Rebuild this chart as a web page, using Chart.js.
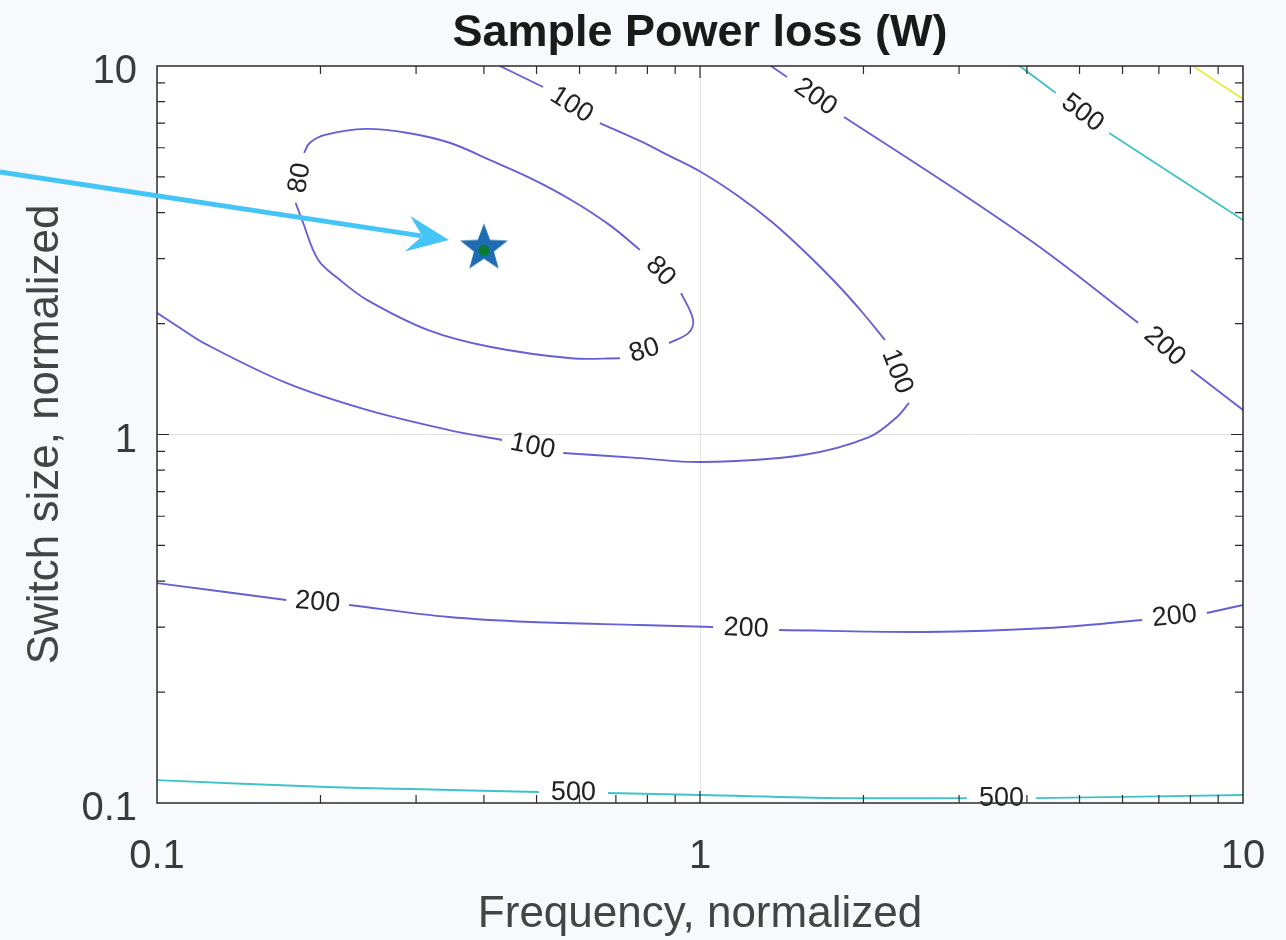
<!DOCTYPE html>
<html>
<head>
<meta charset="utf-8">
<title>Sample Power loss (W)</title>
<script src="https://cdn.jsdelivr.net/npm/chart.js@4"></script>
<style>
  html, body { margin: 0; padding: 0; background: #f7f9fc; }
  #wrap { width: 1286px; height: 940px; }
</style>
</head>
<body>
<div id="wrap"><canvas id="chart" width="1286" height="940"></canvas></div>
<script>
// contour lines: [frequency, switch size], null = gap for the level label
const contour80 = [[0.180,4.25],[0.185,3.82],[0.198,2.98],[0.217,2.63],[0.2435,2.32],[0.316,1.92],[0.410,1.73],[0.579,1.61],[0.712,1.61],null,
  [0.877,1.77],[0.954,1.89],[0.971,2.05],[0.923,2.42],null,
  [0.775,3.17],[0.682,3.70],[0.579,4.33],[0.486,4.97],[0.410,5.56],[0.347,6.18],[0.290,6.58],[0.242,6.75],[0.204,6.50],[0.191,6.18],[0.1866,5.81],null,
  [0.180,4.25]];
const contour100 = [[0.1,2.14],[0.1103,1.945],[0.122,1.77],[0.173,1.38],[0.2435,1.166],[0.345,1.028],[0.432,0.966],null,
  [0.560,0.891],[0.775,0.863],[1.004,0.842],[1.548,0.880],[2.048,0.984],[2.306,1.116],[2.426,1.218],null,
  [2.191,1.805],[1.988,2.150],[1.773,2.593],[1.561,3.128],[1.357,3.773],[1.175,4.439],[1.004,5.156],[0.873,5.73],[0.775,6.26],[0.654,7.00],null,
  [0.514,8.77],[0.428,10]];
const contour200Upper = [[1.351,10],[1.446,9.34],null,[1.842,7.27],[3.10,4.41],[4.37,3.11],[6.41,2.01],null,[8.02,1.496],[10,1.166]];
const contour200Lower = [[0.1,0.395],[0.173,0.3556],null,[0.2258,0.3446],[0.345,0.3197],[0.4884,0.3099],[0.775,0.3041],[1.057,0.3004],null,
  [1.398,0.2948],[2.608,0.2911],[4.37,0.2985],[6.52,0.3138],null,[8.58,0.3279],[10,0.3446]];
const contour500Upper = [[3.88,10],[4.52,8.45],null,[5.67,6.58],[10,3.82]];
const contour500Lower = [[0.1,0.1154],[0.2056,0.1105],[0.345,0.1085],[0.505,0.1071],null,[0.677,0.1064],[1.004,0.1051],[1.842,0.1031],[3.10,0.1031],null,
  [4.16,0.1031],[10,0.1051]];
const contour1000 = [[8.09,10],[10,8.14]];

const optimum = [[0.4, 3.2]];
const arrowTail = [0.0514, 5.16];
const arrowTip = [0.345, 3.37];

const xTicks = [0.1, 1, 10];
const yTicks = [0.1, 1, 10];
const minorTicks = [0.2,0.3,0.4,0.5,0.6,0.7,0.8,0.9,2,3,4,5,6,7,8,9];

const titleText = 'Sample Power loss (W)';

const FONT = '"Liberation Sans", Arial, Helvetica, sans-serif';
const BLUE = '#6660d4';
const CYAN = '#3fc3c9';
const YELLOW = '#ebe94c';

const toPts = arr => arr.map(p => p === null ? {x: null, y: null} : {x: p[0], y: p[1]});

function contour(level, pts, color, labelled) {
  return {
    label: String(level),
    data: toPts(pts),
    showLine: true,
    borderColor: color,
    borderWidth: 1.9,
    pointRadius: 0,
    tension: 0.35,
    spanGaps: false,
    levelLabel: labelled
  };
}

function makeStar(R) {
  const c = document.createElement('canvas');
  c.width = c.height = 2 * R + 4;
  const g = c.getContext('2d');
  const cx = R + 2, cy = R + 2;
  g.beginPath();
  for (let k = 0; k < 10; k++) {
    const r = k % 2 ? R * 0.42 : R;
    const ang = -Math.PI / 2 + k * Math.PI / 5;
    g.lineTo(cx + r * Math.cos(ang), cy + r * Math.sin(ang));
  }
  g.closePath();
  g.fillStyle = '#1e6db2';
  g.fill();
  g.beginPath();
  g.arc(cx, cy + 2, R * 0.22, 0, 2 * Math.PI);
  g.fillStyle = '#0b7a2e';
  g.fill();
  return c;
}

const decorations = {
  id: 'decorations',
  beforeDraw(chart) {
    const {ctx, chartArea: a} = chart;
    ctx.save();
    ctx.fillStyle = '#f7f9fc';
    ctx.fillRect(0, 0, chart.width, chart.height);
    ctx.fillStyle = '#ffffff';
    ctx.fillRect(a.left, a.top, a.right - a.left, a.bottom - a.top);
    // title centred over the plot box
    ctx.fillStyle = '#1a1a1a';
    ctx.font = 'bold 45px ' + FONT;
    ctx.textAlign = 'center';
    ctx.textBaseline = 'middle';
    ctx.fillText(titleText, (a.left + a.right) / 2, 34);
    ctx.restore();
  },
  afterDatasetsDraw(chart) {
    const {ctx, chartArea: a, scales} = chart;
    ctx.save();
    // contour level labels, rotated along the line
    ctx.font = '27px ' + FONT;
    ctx.fillStyle = '#222';
    ctx.textAlign = 'center';
    ctx.textBaseline = 'middle';
    chart.data.datasets.forEach((ds, di) => {
      if (!ds.levelLabel) return;
      const meta = chart.getDatasetMeta(di);
      ds.data.forEach((p, i) => {
        if (p.y !== null) return;
        const p0 = meta.data[i - 1], p1 = meta.data[i + 1];
        let ang = Math.atan2(p1.y - p0.y, p1.x - p0.x);
        if (ang > Math.PI / 2) ang -= Math.PI;
        if (ang < -Math.PI / 2) ang += Math.PI;
        ctx.save();
        ctx.translate((p0.x + p1.x) / 2, (p0.y + p1.y) / 2);
        ctx.rotate(ang);
        ctx.fillText(ds.label, 0, 0);
        ctx.restore();
      });
    });

    // box and inward ticks, matlab style
    ctx.strokeStyle = '#2b2b2b';
    ctx.lineWidth = 1.5;
    ctx.strokeRect(a.left, a.top, a.right - a.left, a.bottom - a.top);
    ctx.lineWidth = 1.2;
    ctx.beginPath();
    minorTicks.concat([1]).forEach(v => {
      const len = v === 1 ? 12 : 8;
      const px = scales.x.getPixelForValue(v);
      ctx.moveTo(px, a.bottom); ctx.lineTo(px, a.bottom - len);
      ctx.moveTo(px, a.top); ctx.lineTo(px, a.top + len);
      const py = scales.y.getPixelForValue(v);
      ctx.moveTo(a.left, py); ctx.lineTo(a.left + len, py);
      ctx.moveTo(a.right, py); ctx.lineTo(a.right - len, py);
    });
    ctx.stroke();

    // arrow pointing at the optimum
    const tx = scales.x.getPixelForValue(arrowTail[0]), ty = scales.y.getPixelForValue(arrowTail[1]);
    const hx = scales.x.getPixelForValue(arrowTip[0]), hy = scales.y.getPixelForValue(arrowTip[1]);
    const ang = Math.atan2(hy - ty, hx - tx);
    const back = (d, off) => [hx - d * Math.cos(ang) - off * Math.sin(ang), hy - d * Math.sin(ang) + off * Math.cos(ang)];
    ctx.strokeStyle = '#45c5f6';
    ctx.fillStyle = '#45c5f6';
    ctx.lineWidth = 5;
    ctx.beginPath();
    const neck = back(28, 0);
    ctx.moveTo(tx, ty);
    ctx.lineTo(neck[0], neck[1]);
    ctx.stroke();
    const w1 = back(42, 18), w2 = back(42, -18), notch = back(27, 0);
    ctx.beginPath();
    ctx.moveTo(hx, hy);
    ctx.lineTo(w1[0], w1[1]);
    ctx.lineTo(notch[0], notch[1]);
    ctx.lineTo(w2[0], w2[1]);
    ctx.closePath();
    ctx.fill();
    ctx.restore();
  }
};

const gridColor = c => (c.tick && c.tick.value === 1) ? '#e2e2e2' : 'rgba(0,0,0,0)';

new Chart(document.getElementById('chart'), {
  type: 'scatter',
  data: {
    datasets: [
      contour(80, contour80, BLUE, true),
      contour(100, contour100, BLUE, true),
      contour(200, contour200Upper, BLUE, true),
      contour(200, contour200Lower, BLUE, true),
      contour(500, contour500Upper, CYAN, true),
      contour(500, contour500Lower, CYAN, true),
      contour(1000, contour1000, YELLOW, false),
      {
        label: 'optimum',
        data: toPts(optimum),
        pointStyle: makeStar(25),
        pointRadius: 25,
        clip: false
      }
    ]
  },
  options: {
    responsive: false,
    animation: false,
    layout: { padding: { left: 0, right: 43, top: 66, bottom: 0 } },
    plugins: {
      legend: { display: false },
      tooltip: { enabled: false },
      title: { display: false }
    },
    scales: {
      x: {
        type: 'logarithmic',
        min: 0.1,
        max: 10,
        afterBuildTicks: s => { s.ticks = xTicks.map(v => ({ value: v })); },
        afterFit: s => { s.height = 137; },
        ticks: {
          color: '#3a3a3a',
          font: { family: FONT, size: 40, lineHeight: 1.7 },
          padding: 20,
          maxRotation: 0,
          callback: v => String(v)
        },
        grid: { color: gridColor, drawTicks: false, lineWidth: 1 },
        border: { display: false },
        title: {
          display: true,
          text: 'Frequency, normalized',
          color: '#444',
          font: { family: FONT, size: 44, lineHeight: 1 },
          padding: { top: 0, bottom: 3 }
        }
      },
      y: {
        type: 'logarithmic',
        min: 0.1,
        max: 10,
        afterBuildTicks: s => { s.ticks = yTicks.map(v => ({ value: v })); },
        afterFit: s => { s.width = 157; },
        ticks: {
          color: '#3a3a3a',
          font: { family: FONT, size: 40 },
          padding: 20,
          labelOffset: 6,
          callback: v => String(v)
        },
        grid: { color: gridColor, drawTicks: false, lineWidth: 1 },
        border: { display: false },
        title: {
          display: true,
          text: 'Switch size, normalized',
          color: '#444',
          font: { family: FONT, size: 44, lineHeight: 1 },
          padding: { top: 24, bottom: 0 }
        }
      }
    }
  },
  plugins: [decorations]
});
</script>
</body>
</html>
